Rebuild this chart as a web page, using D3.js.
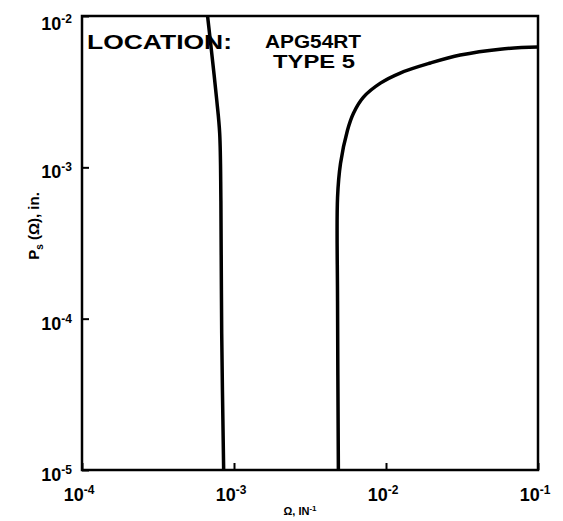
<!DOCTYPE html>
<html>
<head>
<meta charset="utf-8">
<script src="https://cdn.jsdelivr.net/npm/d3@7"></script>
<style>
  body { margin: 0; background: #fff; }
  svg { display: block; }
  text { font-family: "Liberation Sans", Arial, sans-serif; font-weight: bold; fill: #000; }
</style>
</head>
<body>
<div id="chart"></div>
<script>
// tick decades
var xTicks = [1e-4, 1e-3, 1e-2, 1e-1];
var yTicks = [1e-5, 1e-4, 1e-3, 1e-2];
var xTickExp = ["-4", "-3", "-2", "-1"];
var yTickExp = ["-5", "-4", "-3", "-2"];

// left curve (omega, Ps)
var curveAOmega = [6.7e-4, 7.1e-4, 7.7e-4, 8.05e-4, 8.2e-4, 8.3e-4, 8.55e-4];
var curveAPs    = [1e-2, 5.95e-3, 2.78e-3, 1.68e-3, 6.0e-4, 8.0e-5, 1e-5];

// right curve
var curveBOmega = [4.86e-3, 4.8e-3, 4.8e-3, 5.02e-3, 5.58e-3, 6.11e-3, 7.11e-3, 9.19e-3, 1.24e-2, 1.96e-2, 3.08e-2, 5.63e-2, 1e-1];
var curveBPs    = [1e-5, 1.31e-4, 6.33e-4, 1.06e-3, 1.76e-3, 2.28e-3, 2.91e-3, 3.6e-3, 4.2e-3, 4.89e-3, 5.52e-3, 6.04e-3, 6.23e-3];

var width = 563, height = 521;
var margin = {left: 82, right: 25, top: 16, bottom: 51};

var svg = d3.select("#chart").append("svg")
    .attr("width", width)
    .attr("height", height);

var x = d3.scaleLog()
    .domain([1e-4, 1e-1])
    .range([margin.left, width - margin.right]);

var y = d3.scaleLog()
    .domain([1e-5, 1e-2])
    .range([height - margin.bottom, margin.top]);

// frame
svg.append("rect")
    .attr("x", x(1e-4))
    .attr("y", y(1e-2))
    .attr("width", x(1e-1) - x(1e-4))
    .attr("height", y(1e-5) - y(1e-2))
    .attr("fill", "none")
    .attr("stroke", "#000")
    .attr("stroke-width", 2.5);

// inward ticks
var xAxis = d3.axisBottom(x).tickValues(xTicks).tickSize(-7).tickFormat("");
var yAxis = d3.axisLeft(y).tickValues(yTicks).tickSize(-7).tickFormat("");

var gx = svg.append("g")
    .attr("transform", "translate(0," + y(1e-5) + ")")
    .call(xAxis);
var gy = svg.append("g")
    .attr("transform", "translate(" + x(1e-4) + ",0)")
    .call(yAxis);
[gx, gy].forEach(function (g) {
    g.select(".domain").remove();
    g.selectAll("line").attr("stroke", "#000").attr("stroke-width", 2);
});

// tick labels
xTicks.forEach(function (v, i) {
    var t = svg.append("text")
        .attr("x", x(v) - 3)
        .attr("y", 501)
        .attr("text-anchor", "middle")
        .style("font-size", "18px");
    t.append("tspan").text("10");
    t.append("tspan").attr("dy", -7).style("font-size", "12px").text(xTickExp[i]);
});

yTicks.forEach(function (v, i) {
    var yy = y(v) + 11;
    if (v === 1e-2) yy = y(v) + 14;
    var t = svg.append("text")
        .attr("x", 72)
        .attr("y", yy)
        .attr("text-anchor", "end")
        .style("font-size", "18px");
    t.append("tspan").text("10");
    t.append("tspan").attr("dy", -7).style("font-size", "12px").text(yTickExp[i]);
});

// curves
var line = d3.line()
    .x(function (d) { return x(d[0]); })
    .y(function (d) { return y(d[1]); })
    .curve(d3.curveCatmullRom.alpha(0.5));

var curveA = curveAOmega.map(function (d, i) { return [d, curveAPs[i]]; });
var curveB = curveBOmega.map(function (d, i) { return [d, curveBPs[i]]; });

svg.selectAll(".curve")
    .data([curveA, curveB])
    .enter().append("path")
    .attr("class", "curve")
    .attr("d", line)
    .attr("fill", "none")
    .attr("stroke", "#000")
    .attr("stroke-width", 3.5)
    .attr("stroke-linejoin", "round");

// annotation
svg.append("text")
    .attr("x", 87).attr("y", 49)
    .attr("textLength", 145).attr("lengthAdjust", "spacingAndGlyphs")
    .style("font-size", "21px")
    .text("LOCATION:");
svg.append("text")
    .attr("x", 265).attr("y", 48)
    .attr("textLength", 96).attr("lengthAdjust", "spacingAndGlyphs")
    .style("font-size", "19px")
    .text("APG54RT");
svg.append("text")
    .attr("x", 273).attr("y", 68)
    .attr("textLength", 82).attr("lengthAdjust", "spacingAndGlyphs")
    .style("font-size", "19px")
    .text("TYPE 5");

// axis titles
var xt = svg.append("text")
    .attr("x", 300).attr("y", 515)
    .attr("text-anchor", "middle")
    .style("font-size", "11px");
xt.append("tspan").text("Ω, IN");
xt.append("tspan").attr("dy", -4).style("font-size", "8px").text("-1");

var yt = svg.append("text")
    .attr("transform", "translate(39,226) rotate(-90)")
    .attr("text-anchor", "middle")
    .style("font-size", "15px");
yt.append("tspan").text("P");
yt.append("tspan").attr("dy", 4).style("font-size", "10px").text("s");
yt.append("tspan").attr("dy", -4).text(" (Ω), in.");
</script>
</body>
</html>
